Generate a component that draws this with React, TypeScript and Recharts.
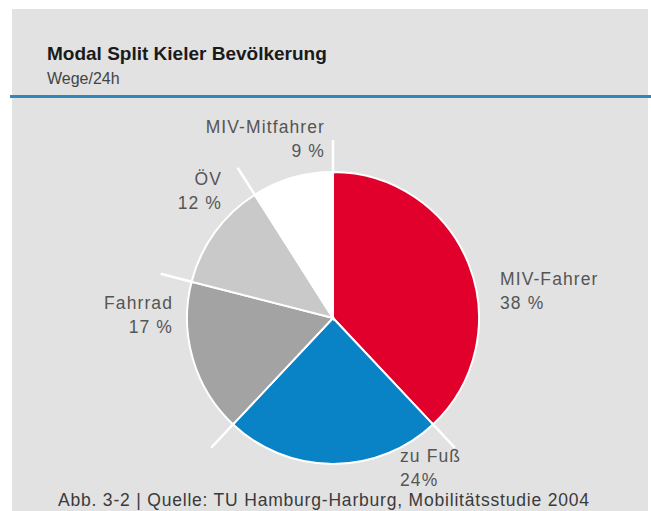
import React from "react";
import { Pie, PieChart, Cell } from "recharts";

const categories = ["MIV-Fahrer", "zu Fuß", "Fahrrad", "ÖV", "MIV-Mitfahrer"];
const shares = [38, 24, 17, 12, 9];
const shareLabels = ["38 %", "24%", "17 %", "12 %", "9 %"];
const sliceColors = ["#e0002b", "#0a82c6", "#a3a3a3", "#c9c9c9", "#ffffff"];

// label placement relative to the pie centre (first line baseline)
const labelPlacement = [
  { dx: 167, dy: -33, anchor: "start" },
  { dx: 67, dy: 144, anchor: "start" },
  { dx: -160, dy: -9, anchor: "end" },
  { dx: -111, dy: -133, anchor: "end" },
  { dx: -8, dy: -185, anchor: "end" },
];

const data = categories.map((name, i) => ({ name, value: shares[i], share: shareLabels[i] }));

const RAD = Math.PI / 180;
const LABEL_FONT = "'Liberation Sans', Arial, sans-serif";

function renderLabel(props: any) {
  const { cx, cy, outerRadius, startAngle, index } = props;
  const p = labelPlacement[index];
  const cos = Math.cos(-startAngle * RAD);
  const sin = Math.sin(-startAngle * RAD);
  return (
    <g>
      <line
        x1={cx + (outerRadius - 2) * cos}
        y1={cy + (outerRadius - 2) * sin}
        x2={cx + (outerRadius + 32) * cos}
        y2={cy + (outerRadius + 32) * sin}
        stroke="#ffffff"
        strokeWidth={2.5}
      />
      <text
        x={cx + p.dx}
        y={cy + p.dy}
        textAnchor={p.anchor}
        fill="#555"
        fontFamily={LABEL_FONT}
        fontSize={17.5}
        letterSpacing={1.1}
      >
        {categories[index]}
      </text>
      <text
        x={cx + p.dx}
        y={cy + p.dy + 24}
        textAnchor={p.anchor}
        fill="#555"
        fontFamily={LABEL_FONT}
        fontSize={17.5}
        letterSpacing={1.1}
      >
        {shareLabels[index]}
      </text>
    </g>
  );
}

export default function App() {
  return (
    <div style={{ position: "absolute", left: 0, top: 0, width: 651, height: 511, background: "#fff", overflow: "hidden" }}>
      <div style={{ position: "absolute", left: 12, top: 9, width: 636, height: 502, background: "#e2e2e2" }} />
      <div
        style={{
          position: "absolute",
          left: 47,
          top: 43,
          fontFamily: LABEL_FONT,
          fontWeight: "bold",
          fontSize: 19,
          color: "#1a1a1a",
          whiteSpace: "nowrap",
        }}
      >
        Modal Split Kieler Bevölkerung
      </div>
      <div
        style={{
          position: "absolute",
          left: 47,
          top: 70,
          fontFamily: LABEL_FONT,
          fontSize: 16,
          color: "#444",
          whiteSpace: "nowrap",
        }}
      >
        Wege/24h
      </div>
      <div style={{ position: "absolute", left: 10, top: 95, width: 641, height: 3, background: "#2f87bb" }} />
      <div style={{ position: "absolute", left: 0, top: 0 }}>
        <PieChart width={651} height={511} margin={{ top: 0, right: 0, bottom: 0, left: 0 }}>
          <Pie
            data={data}
            dataKey="value"
            nameKey="name"
            cx={333}
            cy={318}
            outerRadius={146}
            startAngle={90}
            endAngle={-270}
            stroke="#ffffff"
            strokeWidth={2}
            label={renderLabel}
            labelLine={false}
            isAnimationActive={false}
          >
            {data.map((d, i) => (
              <Cell key={d.name} fill={sliceColors[i]} />
            ))}
          </Pie>
        </PieChart>
      </div>
      <div
        style={{
          position: "absolute",
          left: 58,
          top: 491,
          lineHeight: "19px",
          fontFamily: LABEL_FONT,
          fontSize: 17.5,
          color: "#3a3a3a",
          whiteSpace: "nowrap",
          letterSpacing: 0.8,
        }}
      >
        Abb. 3-2 | Quelle: TU Hamburg-Harburg, Mobilitätsstudie 2004
      </div>
    </div>
  );
}
